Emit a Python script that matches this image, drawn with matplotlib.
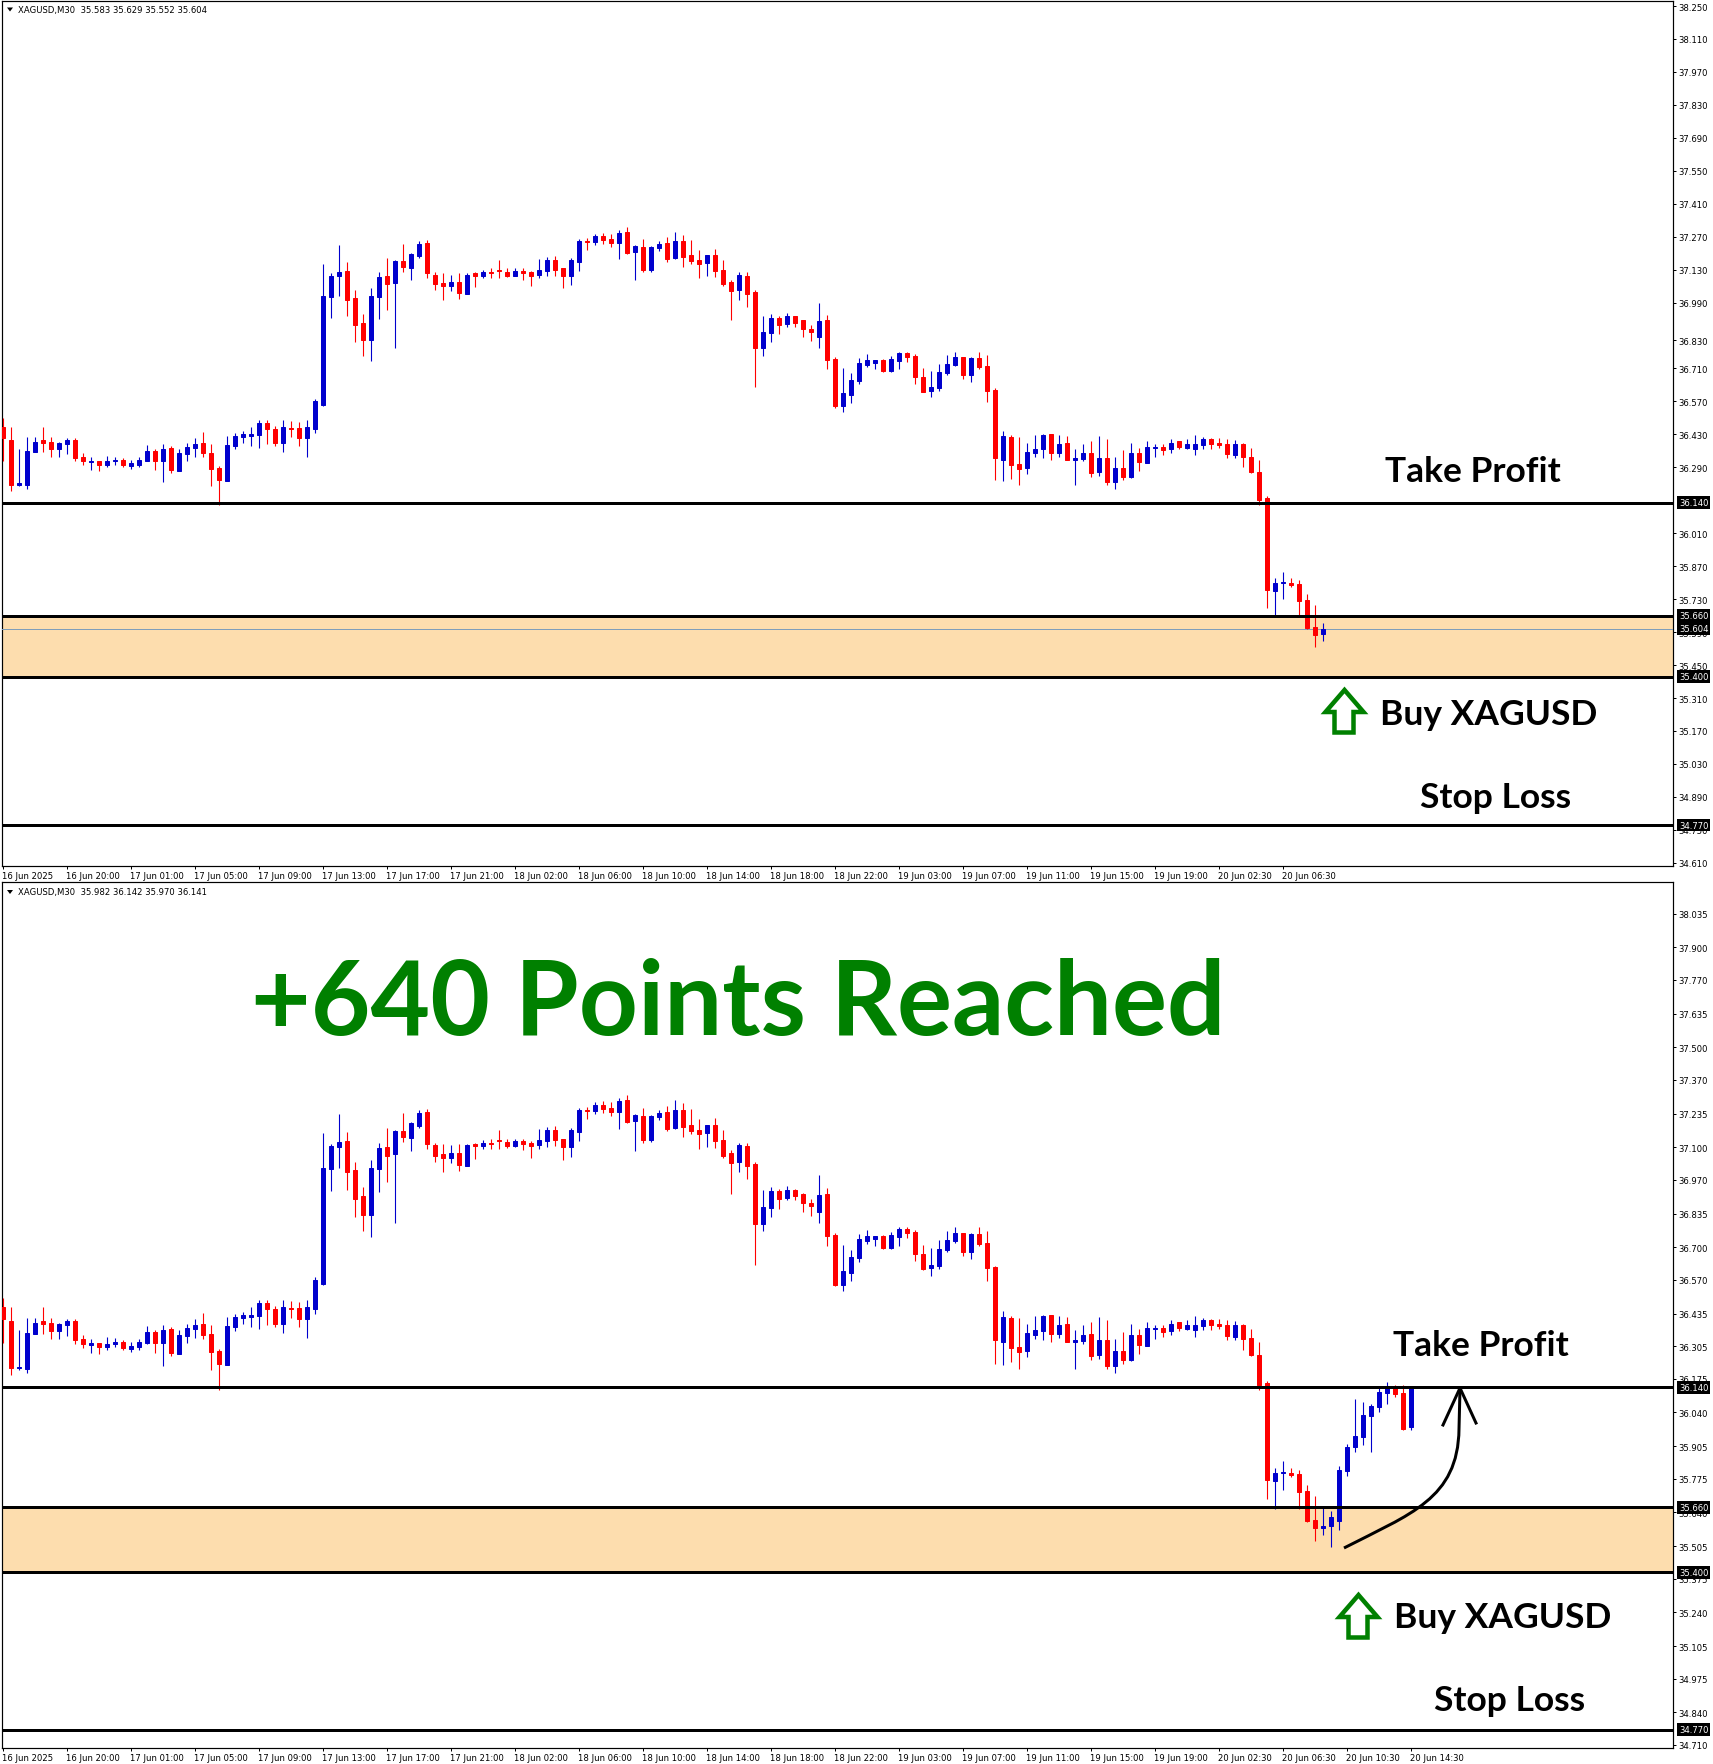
import matplotlib
matplotlib.use('Agg')
import matplotlib.pyplot as plt
from matplotlib.patches import PathPatch, Polygon
from matplotlib.path import Path
from matplotlib.lines import Line2D

W, H = 1713, 1765

# candles, shared by both panels (XAGUSD M30)
highs = [36.498, 36.460, 36.370, 36.418, 36.418, 36.460, 36.418, 36.399, 36.414, 36.414,
         36.349, 36.332, 36.319, 36.340, 36.336, 36.328, 36.323, 36.332, 36.387, 36.370,
         36.391, 36.382, 36.370, 36.395, 36.414, 36.439, 36.391, 36.294, 36.422, 36.435,
         36.443, 36.460, 36.490, 36.490, 36.464, 36.490, 36.486, 36.481, 36.490, 36.582,
         37.156, 37.114, 37.234, 37.162, 37.042, 36.943, 37.050, 37.118, 37.179, 37.170,
         37.238, 37.200, 37.250, 37.255, 37.118, 37.114, 37.109, 37.114, 37.114, 37.118,
         37.130, 37.135, 37.170, 37.135, 37.135, 37.135, 37.126, 37.175, 37.183, 37.187,
         37.135, 37.179, 37.259, 37.263, 37.280, 37.284, 37.280, 37.297, 37.309, 37.234,
         37.259, 37.229, 37.250, 37.267, 37.288, 37.276, 37.255, 37.212, 37.191, 37.217,
         37.170, 37.088, 37.118, 37.118, 37.042, 36.931, 36.943, 36.935, 36.947, 36.935,
         36.918, 36.893, 36.990, 36.939, 36.757, 36.711, 36.690, 36.753, 36.770, 36.745,
         36.749, 36.761, 36.782, 36.782, 36.770, 36.711, 36.698, 36.728, 36.766, 36.782,
         36.757, 36.757, 36.782, 36.766, 36.627, 36.444, 36.427, 36.418, 36.395, 36.427,
         36.431, 36.431, 36.427, 36.423, 36.370, 36.391, 36.400, 36.423, 36.410, 36.332,
         36.362, 36.395, 36.374, 36.400, 36.391, 36.391, 36.410, 36.400, 36.410, 36.427,
         36.418, 36.414, 36.414, 36.410, 36.406, 36.395, 36.374, 36.320, 36.167, 35.819,
         35.844, 35.819, 35.810, 35.751, 35.707]
lows = [36.316, 36.188, 36.209, 36.196, 36.355, 36.355, 36.332, 36.332, 36.345, 36.315,
        36.298, 36.277, 36.273, 36.290, 36.302, 36.290, 36.281, 36.290, 36.315, 36.277,
        36.227, 36.265, 36.273, 36.319, 36.336, 36.332, 36.210, 36.129, 36.231, 36.366,
        36.395, 36.382, 36.374, 36.391, 36.382, 36.357, 36.418, 36.382, 36.336, 36.435,
        36.549, 36.926, 37.017, 36.931, 36.821, 36.765, 36.740, 36.922, 36.960, 36.799,
        37.122, 37.084, 37.179, 37.093, 37.042, 37.002, 37.038, 37.006, 37.025, 37.055,
        37.093, 37.093, 37.093, 37.097, 37.101, 37.088, 37.059, 37.093, 37.101, 37.105,
        37.050, 37.063, 37.126, 37.215, 37.234, 37.238, 37.225, 37.175, 37.196, 37.084,
        37.118, 37.122, 37.208, 37.164, 37.175, 37.143, 37.152, 37.093, 37.101, 37.097,
        37.059, 36.914, 37.002, 36.973, 36.631, 36.765, 36.821, 36.855, 36.888, 36.888,
        36.842, 36.825, 36.799, 36.706, 36.544, 36.525, 36.565, 36.643, 36.715, 36.707,
        36.694, 36.694, 36.707, 36.736, 36.644, 36.610, 36.587, 36.614, 36.681, 36.719,
        36.665, 36.652, 36.707, 36.566, 36.235, 36.231, 36.240, 36.214, 36.261, 36.332,
        36.328, 36.320, 36.336, 36.320, 36.214, 36.315, 36.248, 36.252, 36.214, 36.196,
        36.235, 36.244, 36.273, 36.307, 36.332, 36.341, 36.349, 36.366, 36.370, 36.341,
        36.370, 36.370, 36.374, 36.328, 36.328, 36.290, 36.265, 36.129, 35.692, 35.655,
        35.730, 35.781, 35.655, 35.602, 35.526]
body_tops = [36.460, 36.405, 36.222, 36.359, 36.399, 36.405, 36.399, 36.395, 36.405, 36.405,
             36.332, 36.319, 36.319, 36.315, 36.323, 36.323, 36.307, 36.323, 36.361, 36.361,
             36.370, 36.374, 36.349, 36.378, 36.391, 36.395, 36.353, 36.286, 36.387, 36.422,
             36.431, 36.431, 36.477, 36.477, 36.452, 36.460, 36.456, 36.456, 36.460, 36.570,
             37.017, 37.105, 37.122, 37.126, 37.008, 36.905, 37.017, 37.097, 37.101, 37.166,
             37.166, 37.196, 37.238, 37.242, 37.109, 37.072, 37.076, 37.076, 37.109, 37.114,
             37.118, 37.118, 37.130, 37.122, 37.126, 37.126, 37.118, 37.130, 37.170, 37.170,
             37.135, 37.170, 37.250, 37.250, 37.271, 37.271, 37.259, 37.284, 37.288, 37.229,
             37.225, 37.225, 37.238, 37.242, 37.250, 37.250, 37.191, 37.170, 37.191, 37.191,
             37.130, 37.076, 37.109, 37.105, 37.034, 36.863, 36.926, 36.926, 36.931, 36.931,
             36.914, 36.876, 36.910, 36.914, 36.749, 36.605, 36.660, 36.732, 36.745, 36.745,
             36.745, 36.749, 36.774, 36.774, 36.761, 36.673, 36.631, 36.694, 36.728, 36.757,
             36.757, 36.753, 36.753, 36.719, 36.620, 36.423, 36.418, 36.303, 36.357, 36.370,
             36.427, 36.431, 36.391, 36.395, 36.328, 36.349, 36.353, 36.328, 36.328, 36.286,
             36.286, 36.349, 36.349, 36.378, 36.378, 36.378, 36.395, 36.400, 36.391, 36.391,
             36.410, 36.410, 36.395, 36.391, 36.391, 36.391, 36.336, 36.269, 36.159, 35.798,
             35.802, 35.798, 35.793, 35.726, 35.610]
body_bottoms = [36.414, 36.217, 36.217, 36.214, 36.355, 36.395, 36.366, 36.366, 36.391, 36.328,
                36.315, 36.311, 36.302, 36.302, 36.315, 36.298, 36.294, 36.302, 36.319, 36.319,
                36.319, 36.277, 36.273, 36.345, 36.374, 36.349, 36.281, 36.235, 36.231, 36.382,
                36.418, 36.422, 36.427, 36.452, 36.395, 36.395, 36.452, 36.414, 36.414, 36.452,
                36.553, 37.013, 37.101, 37.000, 36.893, 36.829, 36.829, 37.013, 37.067, 37.072,
                37.143, 37.139, 37.187, 37.114, 37.067, 37.059, 37.059, 37.029, 37.025, 37.105,
                37.105, 37.114, 37.126, 37.105, 37.105, 37.114, 37.105, 37.109, 37.126, 37.130,
                37.101, 37.101, 37.162, 37.246, 37.246, 37.255, 37.242, 37.242, 37.200, 37.204,
                37.130, 37.130, 37.221, 37.175, 37.179, 37.183, 37.166, 37.154, 37.158, 37.126,
                37.067, 37.038, 37.042, 37.025, 36.795, 36.795, 36.859, 36.893, 36.897, 36.905,
                36.876, 36.867, 36.842, 36.744, 36.549, 36.549, 36.599, 36.656, 36.724, 36.732,
                36.698, 36.698, 36.740, 36.757, 36.673, 36.612, 36.616, 36.625, 36.690, 36.724,
                36.681, 36.681, 36.715, 36.616, 36.328, 36.320, 36.298, 36.282, 36.286, 36.349,
                36.366, 36.353, 36.353, 36.320, 36.320, 36.324, 36.265, 36.269, 36.227, 36.227,
                36.248, 36.248, 36.311, 36.307, 36.374, 36.362, 36.366, 36.378, 36.374, 36.370,
                36.387, 36.391, 36.387, 36.345, 36.341, 36.332, 36.269, 36.150, 35.768, 35.764,
                35.798, 35.789, 35.722, 35.606, 35.577]
# B = bull (blue), R = bear (red)
directions = ("RRBBBRRBBR" "RBRBBRBBBR" "BRBBBRRRBB" "BBBRRBRRBB" "BBBRRRBBRB"
              "RBBRRRBRBR" "BRRRBRRBBR" "RBBRBRRBRB" "RBBRBRRRBR" "RRBRRBBRBR"
              "RRBRRBBBBB" "RBBRRRBBBB" "RBRRRBRRBB" "BRBRBBRBRB" "RBRBBRBRBB"
              "BRRRBRRRRB" "BRRRR")

# last candle of the upper panel (35.583 35.629 35.552 35.604)
top_last_high, top_last_low, top_last_body_top, top_last_body_bottom = 35.629, 35.552, 35.604, 35.583

# candles only in the lower panel, after the buy
later_highs = [35.660, 35.645, 35.825, 35.913, 36.093, 36.081, 36.075, 36.137, 36.161, 36.149, 36.149, 36.142]
later_lows = [35.549, 35.501, 35.569, 35.785, 35.881, 35.909, 35.881, 36.041, 36.073, 36.101, 35.969, 35.970]
later_tops = [35.585, 35.621, 35.809, 35.901, 35.945, 36.029, 36.065, 36.121, 36.140, 36.140, 36.117, 36.141]
later_bottoms = [35.577, 35.585, 35.605, 35.805, 35.901, 35.941, 36.025, 36.061, 36.117, 36.113, 35.973, 35.982]
later_directions = "BBBBBBBBBRRB"

top_ticks = [38.25, 38.11, 37.97, 37.83, 37.69, 37.55, 37.41, 37.27, 37.13, 36.99, 36.83, 36.71,
             36.57, 36.43, 36.29, 36.01, 35.87, 35.73, 35.59, 35.45, 35.31, 35.17, 35.03, 34.89,
             34.75, 34.61]
bottom_ticks = [38.035, 37.90, 37.77, 37.635, 37.50, 37.37, 37.235, 37.10, 36.97, 36.835, 36.70,
                36.57, 36.435, 36.305, 36.175, 36.04, 35.905, 35.775, 35.64, 35.505, 35.375,
                35.24, 35.105, 34.975, 34.84, 34.71]

time_labels = ['16 Jun 2025', '16 Jun 20:00', '17 Jun 01:00', '17 Jun 05:00', '17 Jun 09:00',
               '17 Jun 13:00', '17 Jun 17:00', '17 Jun 21:00', '18 Jun 02:00', '18 Jun 06:00',
               '18 Jun 10:00', '18 Jun 14:00', '18 Jun 18:00', '18 Jun 22:00', '19 Jun 03:00',
               '19 Jun 07:00', '19 Jun 11:00', '19 Jun 15:00', '19 Jun 19:00', '20 Jun 02:30',
               '20 Jun 06:30', '20 Jun 10:30', '20 Jun 14:30']

level_prices = [36.14, 35.66, 35.40, 34.77]
zone_low, zone_high = 35.40, 35.66
current_price = 35.604

BLUE = '#0000CD'
RED = '#FF0000'
GREEN = '#008000'
ZONE = '#FDDDAE'
SMALL = 6.15
PX = 0.72  # one pixel in points at dpi 100

fig = plt.figure(figsize=(W / 100, H / 100), dpi=100, facecolor='white')


def make_axes(y_top, y_bottom, ylim):
    ax = fig.add_axes([2.3 / W, 1 - y_bottom / H, (1673.3 - 2.3) / W, (y_bottom - y_top) / H])
    ax.set_xlim(-0.125, 208.75)
    ax.set_ylim(*ylim)
    for s in ax.spines.values():
        s.set_linewidth(PX * 1.2)
    ax.yaxis.tick_right()
    return ax


def draw_candles(ax, hi, lo, tops, bottoms, dirs):
    x = list(range(len(hi)))
    colors = [BLUE if d == 'B' else RED for d in dirs]
    ax.vlines(x, lo, hi, colors=colors, linewidth=PX * 1.1, zorder=4)
    ax.bar(x, [t - b for t, b in zip(tops, bottoms)], bottom=bottoms, width=0.52,
           color=colors, edgecolor=colors, linewidth=PX, zorder=5)


def draw_levels(ax):
    ax.axhspan(zone_low, zone_high, facecolor=ZONE, edgecolor='none', zorder=1)
    for p in level_prices:
        ax.axhline(p, color='black', linewidth=PX * 3, zorder=6)


def price_box(ax, price):
    ax.annotate(f'{price:.3f}', xy=(1, price), xycoords=('axes fraction', 'data'),
                xytext=(4.0, 0), textcoords='offset points', color='white', fontsize=SMALL,
                va='center', ha='left', annotation_clip=False, zorder=10,
                bbox=dict(boxstyle='square,pad=0.22', fc='black', ec='black', lw=0))


def finish_axes(ax, ticks, n_labels):
    ax.set_yticks(ticks)
    ax.set_yticklabels([f'{t:.3f}' for t in ticks], fontsize=SMALL)
    ax.tick_params(axis='y', length=2.2, width=PX, pad=1.6)
    ax.set_xticks([k * 8 - 0.1 for k in range(n_labels)])
    ax.set_xticklabels(time_labels[:n_labels], fontsize=SMALL, ha='left')
    ax.tick_params(axis='x', length=2.2, width=PX, pad=1.5)


def px(x, y):
    return (x / W, 1 - y / H)


def header(y, text):
    fig.text(17.5 / W, 1 - y / H, text, fontsize=SMALL, va='center', ha='left', color='black')
    fig.add_artist(Polygon([px(7, y - 2), px(13, y - 2), px(10, y + 2)], closed=True,
                           transform=fig.transFigure, fc='black', ec='none', zorder=20))


def big_label(x, baseline, text, size=25.5, color='black'):
    fig.text(x / W, 1 - baseline / H, text, fontsize=size, fontweight='bold', color=color,
             family=['Lato', 'DejaVu Sans'], va='baseline', ha='left')


def up_arrow(dx, dy):
    shape = [(1344.5, 691), (1363.5, 713), (1353.5, 713), (1353.5, 733.5), (1334.5, 733.5),
             (1334.5, 713), (1325.5, 713)]
    fig.add_artist(Polygon([px(x + dx, y + dy) for x, y in shape], closed=True,
                           transform=fig.transFigure, fc='none', ec=GREEN,
                           linewidth=PX * 4.5, joinstyle='miter', zorder=20))


# upper panel
ax_top = make_axes(2.3, 867.3, (34.595, 38.27))
draw_levels(ax_top)
ax_top.axhline(current_price, color='#7F9DB9', linewidth=PX, zorder=3)
draw_candles(ax_top, highs + [top_last_high], lows + [top_last_low],
             body_tops + [top_last_body_top], body_bottoms + [top_last_body_bottom], directions + 'B')
finish_axes(ax_top, top_ticks, 21)
for p in level_prices + [current_price]:
    price_box(ax_top, p)

# lower panel
ax_bot = make_axes(883.3, 1749, (34.697, 38.16))
draw_levels(ax_bot)
draw_candles(ax_bot, highs + later_highs, lows + later_lows, body_tops + later_tops,
             body_bottoms + later_bottoms, directions + later_directions)
finish_axes(ax_bot, bottom_ticks, 23)
for p in level_prices:
    price_box(ax_bot, p)

header(10.5, 'XAGUSD,M30  35.583 35.629 35.552 35.604')
header(893, 'XAGUSD,M30  35.982 36.142 35.970 36.141')

# annotations on top of the chart
big_label(1385, 482, 'Take Profit')
big_label(1380, 725, 'Buy XAGUSD')
big_label(1420, 808, 'Stop Loss')
big_label(1393, 1356, 'Take Profit')
big_label(1394, 1628, 'Buy XAGUSD')
big_label(1434, 1711, 'Stop Loss')
big_label(251, 1035, '+640 Points Reached', size=74.2, color=GREEN)
up_arrow(0, 0)
up_arrow(14, 905)

curve = Path([px(1344, 1549), px(1410, 1515), px(1458, 1500), px(1459, 1430), px(1460, 1390)],
             [Path.MOVETO, Path.CURVE4, Path.CURVE4, Path.CURVE4, Path.LINETO])
fig.add_artist(PathPatch(curve, transform=fig.transFigure, fc='none', ec='black',
                         linewidth=PX * 3, zorder=20))
fig.add_artist(Line2D([px(1443, 1426)[0], px(1460, 1389)[0], px(1476, 1424)[0]],
                      [px(1443, 1426)[1], px(1460, 1389)[1], px(1476, 1424)[1]],
                      transform=fig.transFigure, color='black', linewidth=PX * 3, zorder=20))

fig.savefig('out.png', dpi=100)
